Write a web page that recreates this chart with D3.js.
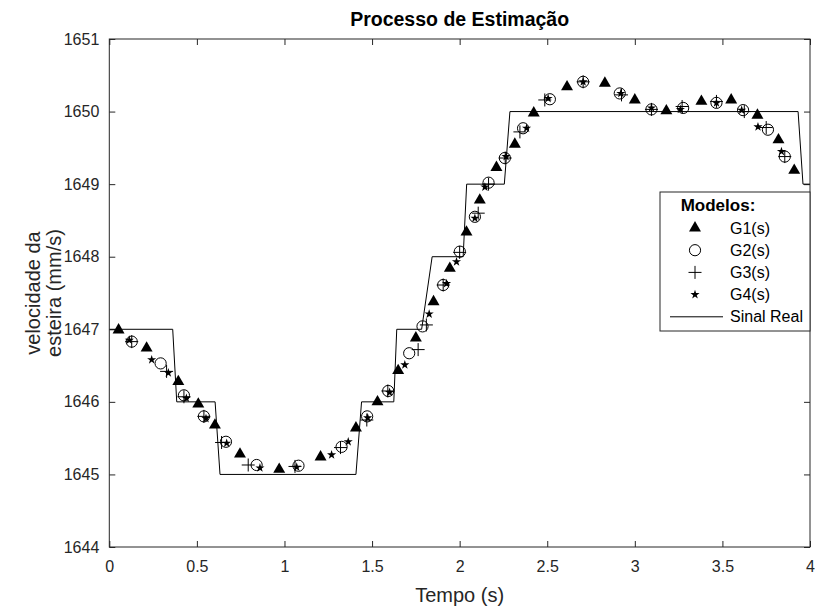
<!DOCTYPE html>
<html>
<head>
<meta charset="utf-8">
<script src="https://cdn.jsdelivr.net/npm/d3@7"></script>
<style>
    body { margin: 0; background: #fff; }
    svg { display: block; font-family: "Liberation Sans", Arial, sans-serif; }
</style>
</head>
<body>
<div id="chart"></div>
<script>
// valores
const sinalTempo = [0, 0.362, 0.385, 0.604, 0.632, 1.408, 1.44, 1.624, 1.641, 1.783, 1.843, 2.02, 2.04, 2.255, 2.287, 3.932, 3.96, 4];
const sinalVel   = [1647, 1647, 1646, 1646, 1645, 1645, 1646, 1646, 1647, 1647, 1648, 1648, 1649, 1649, 1650, 1650, 1649, 1649];

const g1 = [
    [0.053, 1646.99], [0.213, 1646.74], [0.394, 1646.28], [0.508, 1645.97], [0.603, 1645.68],
    [0.746, 1645.28], [0.97, 1645.07], [1.206, 1645.24], [1.408, 1645.64], [1.531, 1646.0],
    [1.649, 1646.43], [1.75, 1646.88], [1.851, 1647.38], [1.944, 1647.84], [2.039, 1648.34],
    [2.115, 1648.78], [2.21, 1649.23], [2.315, 1649.55], [2.423, 1649.98], [2.613, 1650.34],
    [2.829, 1650.39], [3.0, 1650.16], [3.18, 1650.01], [3.38, 1650.14], [3.55, 1650.16],
    [3.70, 1649.95], [3.82, 1649.61], [3.91, 1649.19]
];
const g2 = [
    [0.128, 1646.83], [0.293, 1646.53], [0.426, 1646.09], [0.54, 1645.80], [0.666, 1645.45],
    [0.841, 1645.13], [1.08, 1645.12], [1.326, 1645.38], [1.472, 1645.80], [1.592, 1646.15],
    [1.712, 1646.67], [1.788, 1647.04], [1.906, 1647.61], [2.001, 1648.07], [2.087, 1648.55],
    [2.165, 1649.02], [2.258, 1649.36], [2.362, 1649.77], [2.515, 1650.17], [2.705, 1650.41],
    [2.914, 1650.25], [3.095, 1650.03], [3.276, 1650.05], [3.466, 1650.12], [3.618, 1650.02],
    [3.76, 1649.75], [3.856, 1649.38]
];
const g3 = [
    [0.128, 1646.83], [0.327, 1646.42], [0.426, 1646.07], [0.54, 1645.80], [0.641, 1645.44],
    [0.793, 1645.13], [1.06, 1645.11], [1.32, 1645.37], [1.47, 1645.75], [1.59, 1646.15],
    [1.763, 1646.72], [1.81, 1647.06], [1.906, 1647.61], [2.0, 1648.06], [2.106, 1648.6],
    [2.165, 1649.0], [2.26, 1649.36], [2.344, 1649.72], [2.486, 1650.16], [2.705, 1650.41],
    [2.924, 1650.23], [3.095, 1650.03], [3.27, 1650.07], [3.466, 1650.14], [3.625, 1650.0],
    [3.75, 1649.78], [3.856, 1649.38]
];
const g4 = [
    [0.114, 1646.85], [0.242, 1646.58], [0.337, 1646.40], [0.44, 1646.05], [0.552, 1645.77],
    [0.67, 1645.43], [0.86, 1645.09], [1.07, 1645.1], [1.269, 1645.27], [1.364, 1645.45],
    [1.475, 1645.78], [1.60, 1646.13], [1.687, 1646.51], [1.826, 1647.21], [1.925, 1647.63],
    [1.982, 1647.93], [2.087, 1648.53], [2.144, 1648.96], [2.265, 1649.38], [2.382, 1649.77],
    [2.505, 1650.18], [2.705, 1650.41], [2.92, 1650.25], [3.095, 1650.05], [3.26, 1650.03],
    [3.466, 1650.12], [3.61, 1650.02], [3.703, 1649.79], [3.837, 1649.45]
];

const xTicks = [0, 0.5, 1, 1.5, 2, 2.5, 3, 3.5, 4];
const yTicks = [1644, 1645, 1646, 1647, 1648, 1649, 1650, 1651];
const legendLabels = ["G1(s)", "G2(s)", "G3(s)", "G4(s)", "Sinal Real"];

const
    width = 815,
    height = 608,
    margin = { left: 109.3, right: 5, top: 39, bottom: 61 },
    axisColor = "#262626";

const svg = d3.select("#chart").append("svg")
    .attr("width", width)
    .attr("height", height);

const
    x = d3.scaleLinear([0, 4], [margin.left, width - margin.right]),
    y = d3.scaleLinear([1644, 1651], [height - margin.bottom, margin.top]);

// caixa dos eixos
svg.append("rect")
    .attr("x", x(0)).attr("y", y(1651))
    .attr("width", x(4) - x(0)).attr("height", y(1644) - y(1651))
    .attr("fill", "#fff");

function styleAxis(g) {
    g.select(".domain").remove();
    g.selectAll(".tick line").attr("stroke", axisColor);
    g.selectAll(".tick text").attr("fill", axisColor).style("font-size", "16px");
}

svg.append("g")
    .attr("transform", `translate(0,${y(1644)})`)
    .call(d3.axisBottom(x).tickValues(xTicks).tickFormat(d3.format("")).tickSizeInner(-6).tickSizeOuter(0).tickPadding(14))
    .call(styleAxis);
svg.append("g")
    .attr("transform", `translate(0,${y(1651)})`)
    .call(d3.axisTop(x).tickValues(xTicks).tickFormat("").tickSizeInner(-6).tickSizeOuter(0))
    .call(styleAxis);
svg.append("g")
    .attr("transform", `translate(${x(0)},0)`)
    .call(d3.axisLeft(y).tickValues(yTicks).tickFormat(d3.format("d")).tickSizeInner(-6).tickSizeOuter(0).tickPadding(10))
    .call(styleAxis);
svg.append("g")
    .attr("transform", `translate(${x(4)},0)`)
    .call(d3.axisRight(y).tickValues(yTicks).tickFormat("").tickSizeInner(-6).tickSizeOuter(0))
    .call(styleAxis);

// sinal real
const line = d3.line().x(i => x(sinalTempo[i])).y(i => y(sinalVel[i]));
svg.append("path")
    .attr("d", line(d3.range(sinalTempo.length)))
    .attr("fill", "none")
    .attr("stroke", "#000")
    .attr("stroke-width", 1);

// marcadores
const
    triangle = d3.symbol(d3.symbolTriangle, 62),
    star = d3.symbol(d3.symbolStar, 26),
    plus = "M-6.5,0H6.5M0,-6.5V6.5";

function drawMarker(g, kind) {
    if (kind === "g1") g.append("path").attr("d", triangle()).attr("fill", "#000");
    else if (kind === "g2") g.append("circle").attr("r", 5.6).attr("fill", "none").attr("stroke", "#000");
    else if (kind === "g3") g.append("path").attr("d", plus).attr("stroke", "#000").attr("stroke-width", 1);
    else if (kind === "g4") g.append("path").attr("d", star()).attr("fill", "#000");
}

const series = [["g1", g1], ["g2", g2], ["g3", g3], ["g4", g4]];
series.forEach(([kind, data]) => {
    svg.append("g").selectAll("g")
        .data(data)
        .join("g")
        .attr("transform", d => `translate(${x(d[0])},${y(d[1])})`)
        .each(function () { drawMarker(d3.select(this), kind); });
});

// borda dos eixos
svg.append("rect")
    .attr("x", x(0)).attr("y", y(1651))
    .attr("width", x(4) - x(0)).attr("height", y(1644) - y(1651))
    .attr("fill", "none")
    .attr("stroke", axisColor)
    .attr("stroke-width", 1);

// títulos
svg.append("text")
    .attr("x", (x(0) + x(4)) / 2).attr("y", 26)
    .attr("text-anchor", "middle")
    .style("font-size", "19.5px").style("font-weight", "bold")
    .attr("fill", "#000")
    .text("Processo de Estimação");

svg.append("text")
    .attr("x", (x(0) + x(4)) / 2).attr("y", 602)
    .attr("text-anchor", "middle")
    .style("font-size", "20px")
    .attr("fill", axisColor)
    .text("Tempo (s)");

const yLabel = svg.append("text")
    .attr("transform", `translate(43,${(y(1644) + y(1651)) / 2}) rotate(-90)`)
    .attr("text-anchor", "middle")
    .style("font-size", "20px")
    .attr("fill", axisColor);
yLabel.append("tspan").attr("x", 0).attr("dy", "-0.15em").text("velocidade da");
yLabel.append("tspan").attr("x", 0).attr("dy", "1.05em").text("esteira (mm/s)");

// legenda
const legend = svg.append("g");
legend.append("rect")
    .attr("x", 660).attr("y", 192)
    .attr("width", 150).attr("height", 139)
    .attr("fill", "#fff")
    .attr("stroke", axisColor);
legend.append("text")
    .attr("x", 718).attr("y", 211)
    .attr("text-anchor", "middle")
    .style("font-size", "17px").style("font-weight", "bold")
    .attr("fill", "#000")
    .text("Modelos:");

const rows = legend.selectAll("g.row")
    .data(legendLabels)
    .join("g")
    .attr("class", "row")
    .attr("transform", (d, i) => `translate(0,${228 + i * 22.2})`);
rows.each(function (d, i) {
    const g = d3.select(this);
    if (i < 4) drawMarker(g.append("g").attr("transform", "translate(695,0)"), series[i][0]);
    else g.append("line").attr("x1", 670).attr("x2", 723).attr("stroke", "#000");
});
rows.append("text")
    .attr("x", 730).attr("y", 5.5)
    .style("font-size", "16px")
    .attr("fill", "#000")
    .text(d => d);
</script>
</body>
</html>
